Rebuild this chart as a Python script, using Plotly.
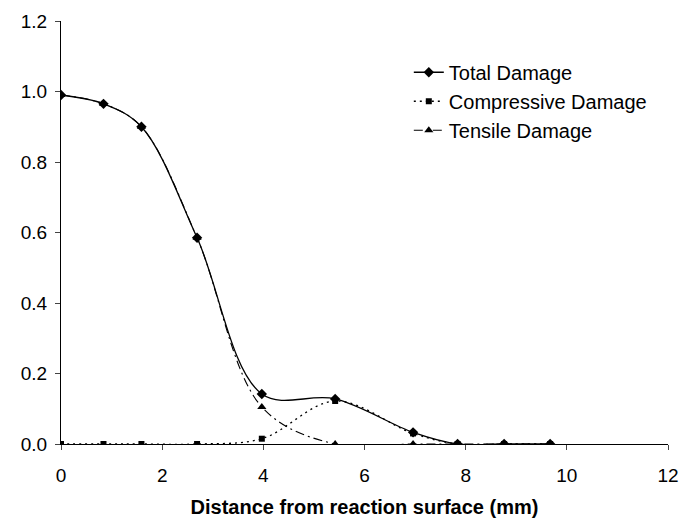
import plotly.graph_objects as go

distance = [0.0, 0.84, 1.59, 2.69, 3.97, 5.42, 6.96, 7.84, 8.76, 9.67]
total_damage = [0.99, 0.965, 0.90, 0.585, 0.142, 0.128, 0.033, 0.0, 0.0, 0.0]
compressive_damage = [0.0, 0.0, 0.0, 0.0, 0.015, 0.122, 0.03, 0.0, 0.0, 0.0]
tensile_damage = [0.99, 0.965, 0.90, 0.585, 0.105, 0.0, 0.0, 0.0, 0.0, 0.0]

x_ticks = [0, 2, 4, 6, 8, 10, 12]
y_ticks = [0.0, 0.2, 0.4, 0.6, 0.8, 1.0, 1.2]

fig = go.Figure()
fig.add_trace(go.Scatter(
    x=distance, y=total_damage, name="Total Damage", mode="lines+markers",
    line=dict(color="black", width=1.3, shape="spline", smoothing=1.0),
    marker=dict(symbol="diamond", size=8, color="black")))
fig.add_trace(go.Scatter(
    x=distance, y=compressive_damage, name="Compressive Damage", mode="lines+markers",
    line=dict(color="black", width=1.3, dash="2px,4px", shape="spline", smoothing=1.0),
    marker=dict(symbol="square", size=6, color="black")))
fig.add_trace(go.Scatter(
    x=distance, y=tensile_damage, name="Tensile Damage", mode="lines+markers",
    line=dict(color="black", width=1.1, dash="9px,4px,2px,4px", shape="spline", smoothing=1.0),
    marker=dict(symbol="triangle-up", size=8, color="black")))

fig.update_layout(
    width=689, height=520,
    margin=dict(l=53, r=29, t=13, b=84),
    paper_bgcolor="white", plot_bgcolor="white",
    font=dict(family="Liberation Sans, Arial, sans-serif", size=19, color="black"),
    showlegend=True,
    legend=dict(x=0.573, y=0.925, xanchor="left", yanchor="top",
                bgcolor="rgba(0,0,0,0)", font=dict(size=20)),
    xaxis=dict(range=[0, 12], tickvals=x_ticks, ticks="outside", ticklen=5,
               showline=True, linecolor="black", linewidth=1, showgrid=False,
               zeroline=False, tickfont=dict(size=19), automargin=False,
               ticklabelstandoff=9,
               title=dict(text="<b>Distance from reaction surface (mm)</b>",
                          font=dict(size=20))),
    yaxis=dict(range=[0, 1.2], tickvals=y_ticks, tickformat=".1f", ticks="outside",
               ticklen=5, showline=True, linecolor="black", linewidth=1,
               showgrid=False, zeroline=False, tickfont=dict(size=19),
               automargin=False, ticklabelstandoff=4),
)

fig.write_html("out.html")
